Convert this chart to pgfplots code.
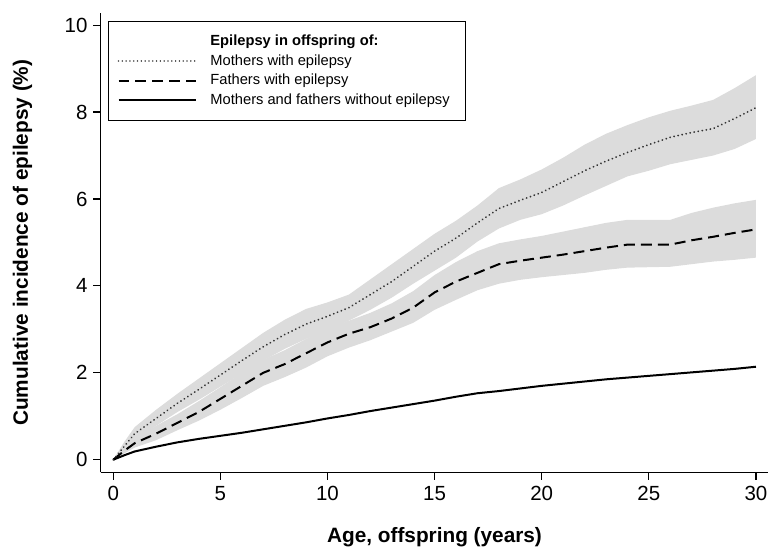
\documentclass[border=0pt]{standalone}
\usepackage{fontspec}
\setmainfont{Liberation Sans}
\usepackage{pgfplots}
\usepackage{pgfplotstable}
\pgfplotsset{compat=1.18}
\usepgfplotslibrary{fillbetween}
\definecolor{band}{RGB}{220,220,220}

\pgfplotstableread{
x   m     mlo   mhi   f     flo   fhi   b
0   0     0     0     0     0     0     0
0.5 0.30  0.22  0.40  0.20  0.14  0.27  0.10
1   0.60  0.45  0.75  0.38  0.28  0.50  0.19
2   0.95  0.78  1.15  0.60  0.45  0.78  0.30
3   1.30  1.10  1.52  0.85  0.68  1.05  0.40
4   1.62  1.38  1.87  1.10  0.90  1.35  0.48
5   1.95  1.68  2.22  1.40  1.15  1.67  0.55
6   2.28  1.98  2.57  1.70  1.42  2.00  0.62
7   2.60  2.28  2.92  2.00  1.70  2.30  0.70
8   2.88  2.55  3.22  2.20  1.90  2.52  0.78
9   3.12  2.78  3.47  2.45  2.12  2.78  0.86
10  3.30  2.97  3.62  2.70  2.38  3.03  0.95
11  3.50  3.20  3.80  2.90  2.58  3.20  1.03
12  3.80  3.45  4.15  3.05  2.75  3.38  1.12
13  4.10  3.73  4.50  3.25  2.95  3.60  1.20
14  4.45  4.05  4.85  3.50  3.15  3.88  1.28
15  4.80  4.35  5.20  3.85  3.45  4.25  1.36
16  5.10  4.65  5.50  4.10  3.68  4.55  1.45
17  5.45  5.02  5.85  4.30  3.90  4.80  1.53
18  5.78  5.32  6.25  4.50  4.05  4.98  1.58
19  5.97  5.52  6.45  4.58  4.14  5.07  1.64
20  6.15  5.65  6.68  4.65  4.20  5.15  1.70
21  6.40  5.85  6.95  4.72  4.25  5.25  1.75
22  6.65  6.08  7.25  4.80  4.30  5.35  1.80
23  6.87  6.30  7.50  4.88  4.37  5.45  1.85
24  7.07  6.52  7.70  4.95  4.42  5.52  1.89
25  7.25  6.65  7.88  4.95  4.43  5.52  1.93
26  7.42  6.80  8.03  4.95  4.44  5.52  1.97
27  7.53  6.90  8.15  5.05  4.50  5.68  2.01
28  7.62  7.00  8.28  5.13  4.56  5.80  2.05
29  7.85  7.15  8.55  5.22  4.60  5.90  2.09
30  8.10  7.38  8.85  5.30  4.65  5.98  2.14
}\data

\begin{document}
\begin{tikzpicture}
\begin{axis}[
  scale only axis, width=668.3bp, height=459.7bp,
  at={(0,0)}, anchor=south west,
  xmin=-0.59, xmax=30.58, ymin=-0.29, ymax=10.28,
  axis x line*=bottom, axis y line*=left,
  axis line style={line width=1.2bp, -},
  xtick={0,5,...,30}, ytick={0,2,...,10},
  tick align=outside, major tick length=7.5bp,
  tick style={line width=1.2bp, black},
  minor tick num=0,
  /pgf/number format/assume math mode=true,
  ticklabel style={font=\fontsize{20.5bp}{23bp}\selectfont, inner sep=0pt},
  xticklabel style={anchor=north, yshift=-6bp},
  yticklabel style={anchor=east, xshift=-5.5bp},
  xlabel={Age, offspring (years)},
  ylabel={Cumulative incidence of epilepsy (\%)},
  xlabel style={font=\bfseries\fontsize{20.8bp}{24bp}\selectfont, at={(axis description cs:0.5,-0.1529)}, anchor=base},
  ylabel style={font=\bfseries\fontsize{20.8bp}{24bp}\selectfont, at={(axis description cs:-0.1088,0.5)}, anchor=base},
  legend style={at={(axis description cs:0,1)}, anchor=north west, xshift=7.3bp, yshift=-8bp,
    draw=black, line width=1.2bp, inner xsep=9bp, inner ysep=13bp, row sep=5.3bp, column sep=13bp,
    nodes={inner sep=0pt, text height=11bp, text depth=3.3bp},
    font=\fontsize{14.7bp}{17bp}\selectfont},
  legend cell align=left,
  legend image code/.code={\draw[#1] (0bp,0bp) -- (78bp,0bp);},
]
\addplot[name path=mhi, draw=none, forget plot] table[x=x, y=mhi] {\data};
\addplot[name path=mlo, draw=none, forget plot] table[x=x, y=mlo] {\data};
\addplot[fill=band, draw=none, forget plot] fill between[of=mhi and mlo];
\addplot[name path=fhi, draw=none, forget plot] table[x=x, y=fhi] {\data};
\addplot[name path=flo, draw=none, forget plot] table[x=x, y=flo] {\data};
\addplot[fill=band, draw=none, forget plot] fill between[of=fhi and flo];

\addplot[black, line width=2bp, forget plot] table[x=x, y=b] {\data};
\addplot[black, line width=2bp, dash pattern=on 11bp off 6bp, forget plot] table[x=x, y=f] {\data};
\addplot[black!80, line width=2bp, line cap=round, dash pattern=on 0.01bp off 4.1bp, forget plot] table[x=x, y=m] {\data};

\addlegendimage{empty legend}
\addlegendentry{\textbf{Epilepsy in offspring of:}}
\addlegendimage{black!70, line width=1.6bp, line cap=round, dash pattern=on 0.01bp off 3.8bp}
\addlegendentry{Mothers with epilepsy}
\addlegendimage{black, line width=2bp, dash pattern=on 11bp off 6bp}
\addlegendentry{Fathers with epilepsy}
\addlegendimage{black, line width=2bp}
\addlegendentry{Mothers and fathers without epilepsy\hspace*{7bp}}
\end{axis}
\path (-100.7bp,-75.3bp) rectangle (668.3bp,472.7bp);
\end{tikzpicture}
\end{document}
